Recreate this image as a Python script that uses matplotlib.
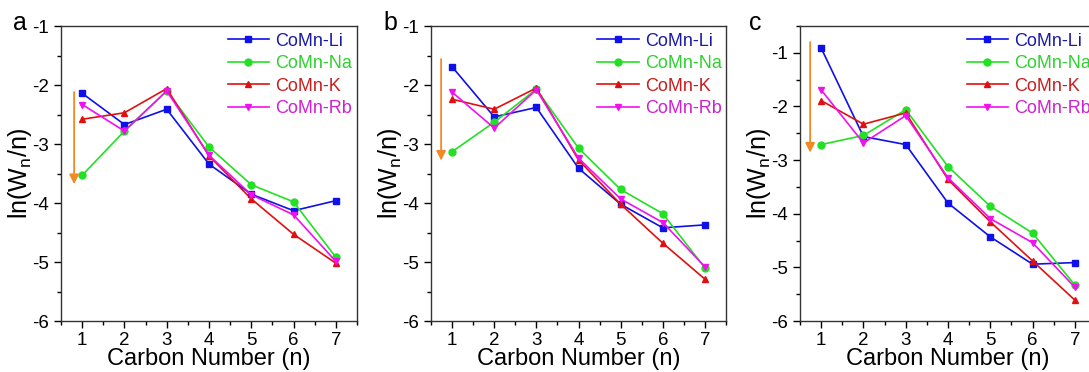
import matplotlib
matplotlib.use("Agg")
import matplotlib.pyplot as plt
from matplotlib.ticker import MultipleLocator, FuncFormatter

plt.rcParams['font.family'] = ['Liberation Sans', 'DejaVu Sans']
plt.rcParams['mathtext.default'] = 'regular'

carbon = [1, 2, 3, 4, 5, 6, 7]
series_names = ["CoMn-Li", "CoMn-Na", "CoMn-K", "CoMn-Rb"]

a_li = [-2.14, -2.67, -2.41, -3.34, -3.85, -4.13, -3.96]
a_na = [-3.53, -2.78, -2.10, -3.05, -3.69, -3.98, -4.92]
a_k = [-2.58, -2.47, -2.06, -3.20, -3.93, -4.53, -5.02]
a_rb = [-2.33, -2.78, -2.10, -3.19, -3.86, -4.20, -4.99]

b_li = [-1.69, -2.54, -2.38, -3.41, -4.02, -4.42, -4.37]
b_na = [-3.13, -2.63, -2.07, -3.07, -3.77, -4.18, -5.10]
b_k = [-2.24, -2.41, -2.05, -3.27, -4.02, -4.68, -5.29]
b_rb = [-2.12, -2.73, -2.08, -3.24, -3.93, -4.33, -5.08]

c_li = [-0.91, -2.56, -2.71, -3.80, -4.43, -4.94, -4.91]
c_na = [-2.71, -2.54, -2.06, -3.12, -3.86, -4.36, -5.33]
c_k = [-1.89, -2.33, -2.12, -3.36, -4.15, -4.88, -5.61]
c_rb = [-1.69, -2.68, -2.17, -3.33, -4.09, -4.54, -5.37]

panel_labels = ["a", "b", "c"]
# arrow (x, y_top, y_bottom)
arrow_a = [0.81, -2.12, -3.68]
arrow_b = [0.74, -1.56, -3.28]
arrow_c = [0.74, -0.80, -2.86]

line_colors = ["#1010e8", "#22e022", "#e01010", "#f010f0"]
text_colors = ["#1a1aa8", "#30d030", "#c81e1e", "#d020d0"]
markers = ["s", "o", "^", "v"]

fig = plt.figure(figsize=(10.89, 3.72), dpi=100)
positions = [
    [61/1089, 0.137, 296/1089, 0.793],
    [431/1089, 0.137, 295/1089, 0.793],
    [800/1089, 0.137, 296/1089, 0.793],
]
letter_x = [13/1089, 383/1089, 749/1089]
data = [(a_li, a_na, a_k, a_rb), (b_li, b_na, b_k, b_rb), (c_li, c_na, c_k, c_rb)]
arrows = [arrow_a, arrow_b, arrow_c]
ylims = [(-6, -1), (-6, -1), (-6, -0.5)]

for i in range(3):
    ax = fig.add_axes(positions[i])
    for j, ys in enumerate(data[i]):
        ax.plot(carbon, ys, color=line_colors[j], marker=markers[j],
                markersize=5, linewidth=1.2, label=series_names[j])
    ax.set_xlim(0.5, 7.5)
    ax.set_ylim(*ylims[i])
    ax.xaxis.set_major_locator(MultipleLocator(1))
    ax.xaxis.set_minor_locator(MultipleLocator(0.5))
    ax.yaxis.set_major_locator(MultipleLocator(1))
    ax.yaxis.set_minor_locator(MultipleLocator(0.5))
    ax.tick_params(which='both', direction='out', top=False, right=False, labelsize=13.5)
    ax.tick_params(which='major', length=5, width=1)
    ax.tick_params(which='minor', length=3, width=1)
    ax.tick_params(axis='x', pad=3)
    ax.set_xlabel("Carbon Number (n)", fontsize=17, labelpad=-0.5)
    ax.set_ylabel("ln(W$_n$/n)", fontsize=18, labelpad=-1)
    for sp in ax.spines.values():
        sp.set_linewidth(1.0)
        sp.set_color("#333333")
    ax.yaxis.set_major_formatter(FuncFormatter(lambda v, p: f"{v:.0f}"))
    ax.xaxis.set_major_formatter(FuncFormatter(lambda v, p: f"{v:.0f}"))
    leg = ax.legend(loc='upper left', bbox_to_anchor=(0.52, 1.02), frameon=False,
                    fontsize=13, handlelength=2.3, handletextpad=0.35, labelspacing=0.3,
                    borderpad=0.2)
    for t, c in zip(leg.get_texts(), text_colors):
        t.set_color(c)
    ax_x, y0, y1 = arrows[i]
    ax.annotate("", xy=(ax_x, y1), xytext=(ax_x, y0),
                arrowprops=dict(arrowstyle="-|>", color="#f08a24", lw=1.3,
                                mutation_scale=14, shrinkA=0, shrinkB=0))
    fig.text(letter_x[i], 1 - 30/372, panel_labels[i], fontsize=18,
             ha='left', va='baseline')

fig.savefig("out.png", dpi=100)
